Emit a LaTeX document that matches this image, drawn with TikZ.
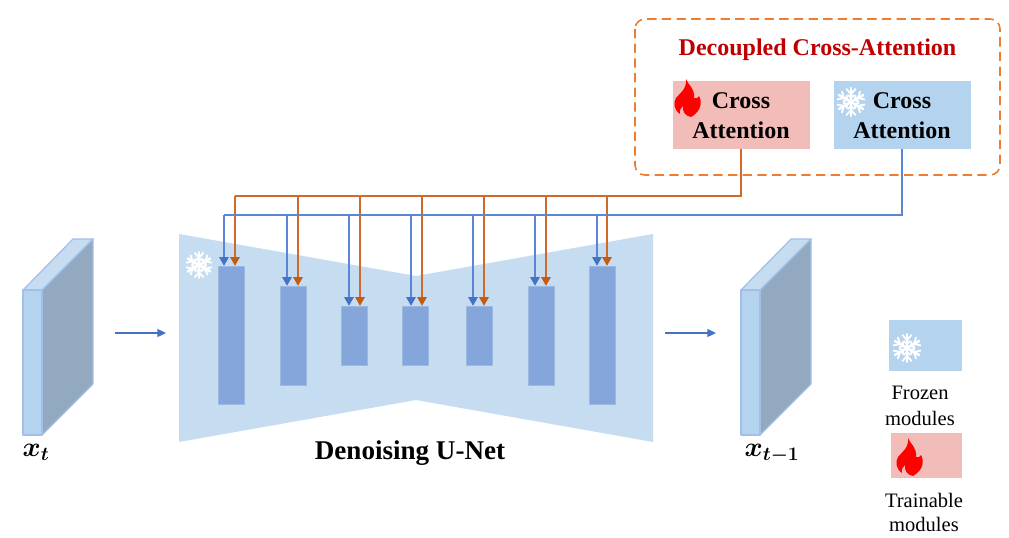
\documentclass[tikz,border=0pt]{standalone}
\usepackage{amsmath}
\usepackage{amssymb}
\usepackage{fontspec}
\setmainfont{Liberation Serif}
\usetikzlibrary{calc, positioning}
\usetikzlibrary{arrows.meta}
\definecolor{trainred}{HTML}{F2BCB9}
\definecolor{frozenblue}{HTML}{B4D3EE}
\definecolor{unetblue}{HTML}{C5DCF1}
\definecolor{barblue}{HTML}{84A6DA}
\definecolor{slabside}{HTML}{93A9C0}
\definecolor{slabedge}{HTML}{A3BEE8}
\definecolor{dashorange}{HTML}{ED7D31}
\definecolor{titlered}{HTML}{C00000}
\definecolor{wireorange}{HTML}{D0692A}
\definecolor{tiporange}{HTML}{C55A11}
\definecolor{wireblue}{HTML}{5B85D6}
\definecolor{tipblue}{HTML}{4472C4}
\tikzset{
  modbox/.style={inner sep=0pt, minimum width=102.75pt, minimum height=51pt},
  modtext/.style={inner sep=0pt, anchor=base, font=\fontsize{18}{20}\selectfont\bfseries},
  barbox/.style={fill=barblue, draw=barblue!80!white, line width=0.3pt, inner sep=0pt, minimum width=19.5pt},
  slabface/.style={draw=slabedge, line width=0.9pt, line join=round},
  orangearrow/.style={draw=wireorange, line width=1.2pt, -{Triangle[length=6.5pt, width=7pt, color=tiporange]}},
  bluearrow/.style={draw=wireblue, line width=1.2pt, -{Triangle[length=6.5pt, width=7pt, color=tipblue]}},
  orangewire/.style={draw=wireorange, line width=1.2pt},
  bluewire/.style={draw=wireblue, line width=1.2pt},
  flowarrow/.style={draw=tipblue, line width=0.9pt, -{Triangle[length=6.5pt, width=6pt]}},
  legendtext/.style={inner sep=0pt, font=\fontsize{15.4}{18}\selectfont},
  snowflake/.pic={
    \foreach \a in {0,60,...,300} {
      \draw[white, line width=1.9pt, line cap=round, rotate=\a] (0,0) -- (0,-14);
      \draw[white, line width=1.4pt, line cap=round, rotate=\a] (-4.5,-13) -- (0,-8) -- (4.5,-13);
      \draw[white, line width=1.4pt, line cap=round, rotate=\a] (-3,-7) -- (0,-4) -- (3,-7);
    }
    \fill[white] (0,0) circle (3);
  },
  flame/.pic={
    \fill[red] (12,0) .. controls (14,6) and (21,9) .. (20,19)
      .. controls (22,20) and (24,19) .. (25,17)
      .. controls (28,22) and (28,32) .. (17,38)
      .. controls (11,37) and (8,32) .. (9,27)
      .. controls (7,29) and (5,31) .. (6,35)
      .. controls (0,31) and (-1,24) .. (2,19)
      .. controls (6,14) and (13,10) .. (12,0) -- cycle;
  },
}
\begin{document}
\begin{tikzpicture}[x=0.75pt, y=-0.75pt]
\useasboundingbox (0,0) rectangle (1009,538);
\def\busO{196}
\def\busB{215}
\draw[dashorange, line width=1.2pt, dash pattern=on 7pt off 4pt, rounded corners=7.5pt] (635,19) rectangle (1000,175);
\node[text=titlered, inner sep=0pt, font=\fontsize{18}{20}\selectfont\bfseries] (title) at (817.5,50) {Decoupled Cross-Attention};
\node[modbox, fill=trainred] (crossT) at (741,115) {};
\node[modbox, fill=frozenblue] (crossF) at (902,115) {};
\node[modtext] (crossTa) at ($(crossT.south)+(0,-41)$) {Cross};
\node[modtext] (crossTb) at ($(crossT.south)+(0,-11)$) {Attention};
\node[modtext] (crossFa) at ($(crossF.south)+(0,-41)$) {Cross};
\node[modtext] (crossFb) at ($(crossF.south)+(0,-11)$) {Attention};
\pic at (674,79) {flame};
\pic at (851,102) {snowflake};
\fill[unetblue] (179,234) -- (416,276) -- (653,234) -- (653,442) -- (416,400) -- (179,442) -- cycle;
\pic[scale=0.92] at (199,265) {snowflake};
\foreach \name/\x/\top/\bot in {1/231/266/404, 2/293/286/385, 3/354/306/365, 4/415/306/365, 5/479/306/365, 6/541/286/385, 7/602/266/404} {
  \node[barbox, minimum height={(\bot-\top)*0.75pt}] (bar\name) at (\x,{(\top+\bot)/2}) {};
}
\coordinate (busT) at (741,\busO);
\coordinate (busF) at (902,\busB);
\foreach \name/\bo/\oo in {1/-7/4, 2/-6/5, 3/-5/6, 4/-4/7, 5/-6/5, 6/-6/5, 7/-5/5} {
  \coordinate (inF\name) at ($(bar\name.north)+(\bo,0)$);
  \coordinate (inT\name) at ($(bar\name.north)+(\oo,0)$);
  \draw[bluearrow] (inF\name |- busF) -- (inF\name);
  \draw[orangearrow] (inT\name |- busT) -- (inT\name);
}
\draw[orangewire] (crossT.south) |- (inT1 |- busT);
\draw[bluewire] (crossF.south) |- (inF1 |- busF);
\filldraw[slabface, fill=slabside] (42,290) -- (93,239) -- (93,384) -- (42,435) -- cycle;
\filldraw[slabface, fill=unetblue] (23,290) -- (73,239) -- (93,239) -- (42,290) -- cycle;
\filldraw[slabface, fill=frozenblue] (23,290) rectangle (42,435);
\filldraw[slabface, fill=slabside] (760,290) -- (811,239) -- (811,384) -- (760,435) -- cycle;
\filldraw[slabface, fill=unetblue] (741,290) -- (791,239) -- (811,239) -- (760,290) -- cycle;
\filldraw[slabface, fill=frozenblue] (741,290) rectangle (760,435);
\coordinate (inA) at (115,333);
\coordinate (inB) at (166,333);
\coordinate (outA) at (665,333);
\coordinate (outB) at (716,333);
\draw[flowarrow] (inA) -- (inB);
\draw[flowarrow] (outA) -- (outB);
\node[inner sep=0pt, font=\fontsize{20}{22}\selectfont] (xt) at (36,452) {$\boldsymbol{x_t}$};
\node[inner sep=0pt, font=\fontsize{20}{22}\selectfont] (xtm) at (772,454) {$\boldsymbol{x_{t-1}}$};
\node[inner sep=0pt, font=\fontsize{20.3}{22}\selectfont\bfseries] (unet) at (410,453) {Denoising U-Net};
\node[fill=frozenblue, inner sep=0pt, minimum width=54.75pt, minimum height=38.25pt] (legF) at (925.5,345.5) {};
\pic at (907,348) {snowflake};
\node[legendtext] (legFa) at (920,393) {Frozen};
\node[legendtext] (legFb) at (920,418) {modules};
\node[fill=trainred, inner sep=0pt, minimum width=53.25pt, minimum height=33.75pt] (legT) at (926.5,455.5) {};
\pic at (896,438) {flame};
\node[legendtext] (legTa) at (924,500) {Trainable};
\node[legendtext] (legTb) at (924,524) {modules};
\end{tikzpicture}
\end{document}
